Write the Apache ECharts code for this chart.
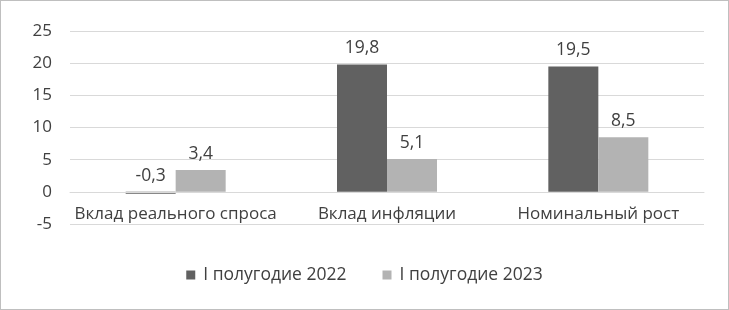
<!DOCTYPE html>
<html>
<head>
<meta charset="utf-8">
<script src="https://cdn.jsdelivr.net/npm/echarts@6/dist/echarts.min.js"></script>
<style>
  html, body { margin: 0; padding: 0; background: #fff; }
  #chart { width: 727px; height: 308px; border: 1px solid #bfbfbf; }
</style>
</head>
<body>
<div id="chart"></div>
<script>
var categories = ['Вклад реального спроса', 'Вклад инфляции', 'Номинальный рост'];
var seriesNames = ['I полугодие 2022', 'I полугодие 2023'];
var values2022 = [-0.3, 19.8, 19.5];
var values2023 = [3.4, 5.1, 8.5];

var font = 'Open Sans';
var textColor = '#404040';

function commaFmt(p) {
    return String(p.value).replace('.', ',');
}

var chart = echarts.init(document.getElementById('chart'));

var option = {
    animation: false,
    textStyle: { fontFamily: font },
    grid: {
        left: 69,
        right: 24,
        top: 30,
        bottom: 85,
        containLabel: false
    },
    legend: {
        data: seriesNames,
        bottom: 20,
        left: 'center',
        itemWidth: 9,
        itemHeight: 9,
        itemGap: 36,
        icon: 'rect',
        textStyle: { fontSize: 17.5, color: textColor, fontFamily: font, padding: [0, 0, 0, 3] }
    },
    xAxis: {
        type: 'category',
        data: categories,
        axisLine: { show: true, onZero: true, lineStyle: { color: '#d9d9d9', width: 1 } },
        axisTick: { show: false },
        axisLabel: {
            interval: 0, fontSize: 17, color: textColor, margin: -18, fontFamily: font,
            backgroundColor: '#fff', padding: [0, 3, 0, 3]
        },
        z: 5
    },
    yAxis: {
        type: 'value',
        min: -5,
        max: 25,
        interval: 5,
        axisLine: { show: false },
        axisTick: { show: false },
        splitLine: { lineStyle: { color: '#d9d9d9', width: 1 } },
        axisLabel: { fontSize: 17, color: textColor, margin: 18, fontFamily: font }
    },
    series: [
        {
            name: seriesNames[0],
            type: 'bar',
            data: values2022,
            barWidth: 50,
            barGap: '0%',
            itemStyle: { color: '#616161' },
            label: { show: true, position: 'top', distance: 7, fontSize: 17.5, color: textColor, formatter: commaFmt }
        },
        {
            name: seriesNames[1],
            type: 'bar',
            data: values2023,
            barWidth: 50,
            barGap: '0%',
            itemStyle: { color: '#b3b3b3' },
            label: { show: true, position: 'top', distance: 7, fontSize: 17.5, color: textColor, formatter: commaFmt }
        }
    ]
};
chart.setOption(option);
</script>
</body>
</html>
